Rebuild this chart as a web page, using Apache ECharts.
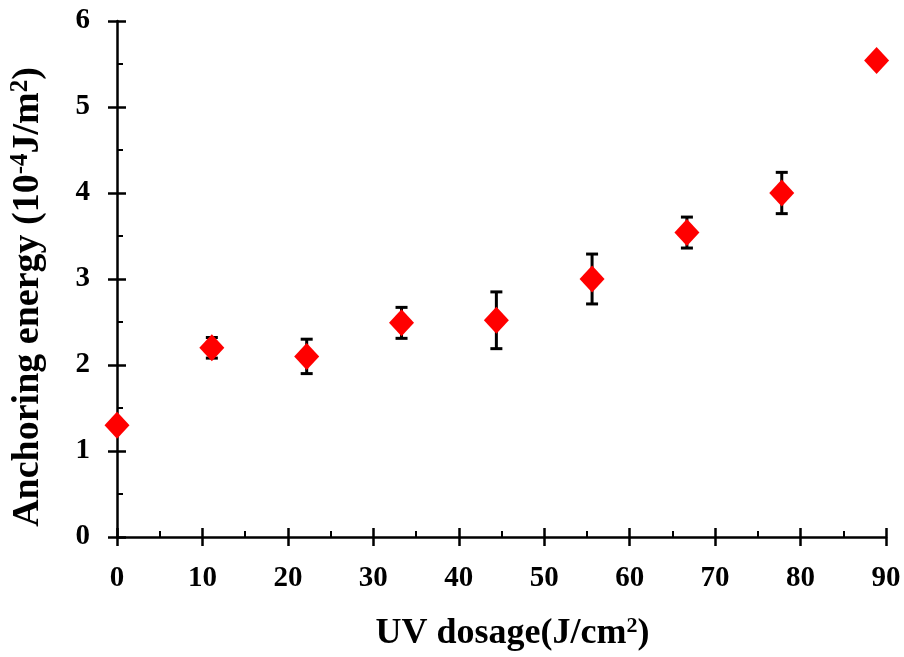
<!DOCTYPE html>
<html>
<head>
<meta charset="utf-8">
<script src="https://cdn.jsdelivr.net/npm/echarts@6/dist/echarts.min.js"></script>
<style>
  html, body { margin: 0; padding: 0; background: #fff; }
  #chart { width: 904px; height: 657px; }
</style>
</head>
<body>
<div id="chart"></div>
<script>
// UV dosage (J/cm^2)
const uvDosage = [0, 11.1, 22.2, 33.3, 44.4, 55.6, 66.7, 77.8, 88.9];
// Anchoring energy (10^-4 J/m^2)
const anchoringEnergy = [1.3, 2.2, 2.1, 2.49, 2.52, 3.0, 3.54, 4.0, 5.54];
// Half-length of the error bars
const errorHalf = [0, 0.12, 0.2, 0.18, 0.33, 0.29, 0.18, 0.24, 0];

const xTicks = { min: 0, max: 90, interval: 10 };
const yTicks = { min: 0, max: 6, interval: 1 };

const FONT = '"Liberation Serif", "Times New Roman", serif';
const axisColor = '#000';

const points = uvDosage.map((x, i) => [x, anchoringEnergy[i]]);
const errData = uvDosage.map((x, i) => [x, anchoringEnergy[i], errorHalf[i]]);

const chart = echarts.init(document.getElementById('chart'), null, { renderer: 'canvas' });

const baseX = {
  type: 'value', min: xTicks.min, max: xTicks.max, interval: xTicks.interval,
  splitLine: { show: false }
};
const baseY = {
  type: 'value', min: yTicks.min, max: yTicks.max, interval: yTicks.interval,
  splitLine: { show: false }
};
const tickLine = { color: axisColor, width: 2.5 };
const labelStyle = { color: '#000', fontFamily: FONT, fontWeight: 'bold', fontSize: 29, margin: 27 };

chart.setOption({
  animation: false,
  backgroundColor: '#fff',
  grid: { left: 114, right: 18, top: 21, bottom: 117 },
  xAxis: [
    Object.assign({}, baseX, {
      position: 'bottom',
      axisLine: { lineStyle: { color: axisColor, width: 2.5 } },
      axisTick: { show: true, inside: false, length: 9, lineStyle: tickLine },
      axisLabel: labelStyle,
      name: 'UV dosage(J/cm{sup|2})',
      nameLocation: 'middle',
      nameGap: 78,
      nameTextStyle: {
        color: '#000', fontFamily: FONT, fontWeight: 'bold', fontSize: 36,
        padding: [0, 0, 0, 22],
        rich: { sup: { fontFamily: FONT, fontWeight: 'bold', fontSize: 22, color: '#000', verticalAlign: 'top', padding: [0, 0, 16, 0] } }
      }
    }),
    Object.assign({}, baseX, {
      position: 'bottom',
      axisLine: { show: false },
      axisLabel: { show: false },
      axisTick: { show: true, inside: true, length: 9, lineStyle: tickLine },
      minorTick: { show: true, splitNumber: 2, length: 6, lineStyle: { color: axisColor, width: 2 } }
    })
  ],
  yAxis: [
    Object.assign({}, baseY, {
      position: 'left',
      axisLine: { lineStyle: { color: axisColor, width: 2.5 } },
      axisTick: { show: true, inside: false, length: 9, lineStyle: tickLine },
      axisLabel: labelStyle,
      name: 'Anchoring energy (10{sup|-4}J/m{sup|2})',
      nameLocation: 'middle',
      nameGap: 69,
      nameTextStyle: {
        color: '#000', fontFamily: FONT, fontWeight: 'bold', fontSize: 38,
        padding: [0, 36, 0, 0],
        rich: { sup: { fontFamily: FONT, fontWeight: 'bold', fontSize: 25, color: '#000', verticalAlign: 'top', padding: [0, 0, 15, 0] } }
      }
    }),
    Object.assign({}, baseY, {
      position: 'left',
      axisLine: { show: false },
      axisLabel: { show: false },
      axisTick: { show: true, inside: true, length: 9, lineStyle: tickLine },
      minorTick: { show: true, splitNumber: 2, length: 6, lineStyle: { color: axisColor, width: 2 } }
    })
  ],
  series: [
    {
      type: 'custom',
      name: 'error',
      z: 2,
      data: errData,
      renderItem: function (params, api) {
        const x = api.value(0), y = api.value(1), e = api.value(2);
        if (!e) return null;
        const top = api.coord([x, y + e]);
        const bot = api.coord([x, y - e]);
        const cap = 6;
        const style = { stroke: '#000', lineWidth: 3 };
        return {
          type: 'group',
          children: [
            { type: 'line', shape: { x1: top[0], y1: top[1], x2: bot[0], y2: bot[1] }, style: style },
            { type: 'line', shape: { x1: top[0] - cap, y1: top[1], x2: top[0] + cap, y2: top[1] }, style: style },
            { type: 'line', shape: { x1: bot[0] - cap, y1: bot[1], x2: bot[0] + cap, y2: bot[1] }, style: style }
          ]
        };
      }
    },
    {
      type: 'scatter',
      name: 'energy',
      z: 3,
      symbol: 'diamond',
      symbolSize: [25, 27],
      itemStyle: { color: '#ff0000', opacity: 1 },
      data: points
    }
  ]
});
</script>
</body>
</html>
